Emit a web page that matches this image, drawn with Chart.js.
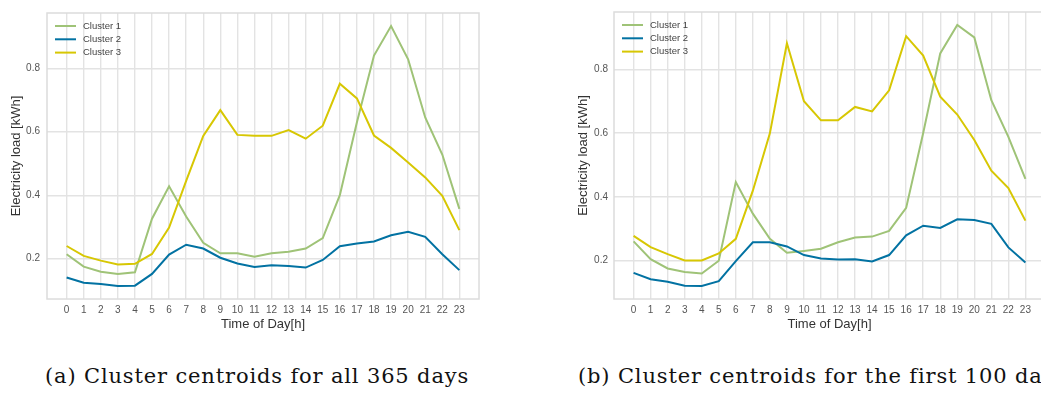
<!DOCTYPE html>
<html lang="en">
<head>
    <meta charset="UTF-8">
    <title>Cluster centroids</title>
    <script src="https://cdn.jsdelivr.net/npm/chart.js"></script>
    <style>
        html, body { margin: 0; padding: 0; background: #ffffff; overflow: hidden; }
        body { width: 1041px; height: 393px; position: relative; }
        .panel { position: absolute; top: 0; width: 500px; height: 345px; }
        #panelA { left: 0; }
        #panelB { left: 560px; }
        .caption {
            position: absolute; top: 364px; white-space: nowrap;
            font-family: 'DejaVu Serif', 'Liberation Serif', serif;
            font-size: 21px; letter-spacing: 0.85px; color: #111;
        }
        #capA { left: 45px; }
        #capB { left: 578px; }
    </style>
</head>
<body>
    <div class="panel" id="panelA"><canvas id="chartA" width="500" height="345"></canvas></div>
    <div class="panel" id="panelB"><canvas id="chartB" width="500" height="345"></canvas></div>
    <div class="caption" id="capA">(a) Cluster centroids for all 365 days</div>
    <div class="caption" id="capB">(b) Cluster centroids for the first 100 days</div>

    <script>
        const hours = [0, 1, 2, 3, 4, 5, 6, 7, 8, 9, 10, 11, 12, 13, 14, 15, 16, 17, 18, 19, 20, 21, 22, 23];
        const yTicks = [0.2, 0.4, 0.6, 0.8];
        const clusterNames = ['Cluster 1', 'Cluster 2', 'Cluster 3'];

        // all 365 days
        const allCluster1 = [0.214, 0.175, 0.159, 0.152, 0.157, 0.326, 0.428, 0.333, 0.250, 0.217, 0.217, 0.206,
                             0.217, 0.222, 0.232, 0.265, 0.400, 0.630, 0.840, 0.933, 0.828, 0.645, 0.528, 0.357];
        const allCluster2 = [0.141, 0.124, 0.120, 0.114, 0.115, 0.152, 0.213, 0.244, 0.232, 0.203, 0.185, 0.174,
                             0.179, 0.177, 0.172, 0.196, 0.239, 0.248, 0.254, 0.274, 0.285, 0.269, 0.214, 0.164];
        const allCluster3 = [0.240, 0.209, 0.194, 0.182, 0.184, 0.215, 0.298, 0.445, 0.587, 0.668, 0.590, 0.587,
                             0.587, 0.605, 0.578, 0.619, 0.751, 0.705, 0.588, 0.549, 0.503, 0.456, 0.398, 0.290];

        // first 100 days
        const firstCluster1 = [0.260, 0.204, 0.175, 0.164, 0.159, 0.199, 0.446, 0.347, 0.268, 0.224, 0.230, 0.237,
                               0.257, 0.272, 0.275, 0.293, 0.365, 0.600, 0.850, 0.939, 0.900, 0.703, 0.588, 0.456];
        const firstCluster2 = [0.161, 0.141, 0.133, 0.121, 0.120, 0.135, 0.198, 0.257, 0.257, 0.244, 0.217, 0.206,
                               0.203, 0.204, 0.197, 0.217, 0.279, 0.309, 0.302, 0.329, 0.327, 0.315, 0.241, 0.194];
        const firstCluster3 = [0.277, 0.242, 0.220, 0.200, 0.200, 0.222, 0.268, 0.419, 0.599, 0.882, 0.700, 0.640,
                               0.640, 0.682, 0.668, 0.734, 0.904, 0.843, 0.714, 0.658, 0.578, 0.482, 0.427, 0.325];

        const lineColors = ['#9fc377', '#0272a2', '#d7c703'];
        const sansFont = "'Liberation Sans', Arial, sans-serif";
        const gridColor = '#e3e3e3';

        // frame around the plot area plus the legend in its upper left corner
        const frameAndLegend = {
            id: 'frameAndLegend',
            afterDatasetsDraw(chart) {
                const { ctx, chartArea: a } = chart;
                ctx.save();
                ctx.strokeStyle = '#dcdcdc';
                ctx.lineWidth = 1.5;
                ctx.strokeRect(a.left, a.top, a.right - a.left, a.bottom - a.top);
                ctx.font = '9.5px ' + sansFont;
                ctx.textBaseline = 'middle';
                chart.data.datasets.forEach((ds, i) => {
                    const y = a.top + 13 + i * 13.3;
                    ctx.strokeStyle = ds.borderColor;
                    ctx.lineWidth = 2;
                    ctx.beginPath();
                    ctx.moveTo(a.left + 8, y);
                    ctx.lineTo(a.left + 29, y);
                    ctx.stroke();
                    ctx.fillStyle = '#444';
                    ctx.fillText(ds.label, a.left + 36, y);
                });
                ctx.restore();
            }
        };

        function buildChart(canvasId, series, lay) {
            const flat = series.flat();
            const lo = Math.min(...flat), hi = Math.max(...flat);
            const pad = (hi - lo) * 0.05;
            const xPad = (hours[hours.length - 1] - hours[0]) * 0.05;

            const datasets = series.map((vals, i) => ({
                label: clusterNames[i],
                data: hours.map((h, k) => ({ x: h, y: vals[k] })),
                borderColor: lineColors[i],
                borderWidth: 2,
                pointRadius: 0,
                tension: 0,
                fill: false,
                order: 3 - i
            }));

            return new Chart(document.getElementById(canvasId), {
                type: 'line',
                data: { datasets },
                plugins: [frameAndLegend],
                options: {
                    responsive: false, animation: false,
                    layout: { padding: { left: 0, top: 10, right: lay.right, bottom: 0 } },
                    plugins: { legend: { display: false }, tooltip: { enabled: false } },
                    scales: {
                        x: {
                            type: 'linear',
                            min: hours[0] - xPad, max: hours[hours.length - 1] + xPad,
                            afterBuildTicks: s => { s.ticks = hours.map(v => ({ value: v })); },
                            afterFit: s => { s.height = 46; },
                            grid: { color: gridColor, lineWidth: 1.4, drawTicks: false },
                            border: { display: false },
                            ticks: { padding: 5, color: '#555', font: { family: sansFont, size: 10 },
                                     maxRotation: 0, autoSkip: false },
                            title: { display: true, text: 'Time of Day[h]', color: '#333',
                                     font: { family: sansFont, size: 13 }, padding: { top: 0, bottom: 13 } }
                        },
                        y: {
                            min: lo - pad, max: hi + pad,
                            afterBuildTicks: s => { s.ticks = yTicks.map(v => ({ value: v })); },
                            afterFit: s => { s.width = lay.yWidth; },
                            grid: { color: gridColor, lineWidth: 1.4, drawTicks: false },
                            border: { display: false },
                            ticks: { padding: lay.tickPad, color: '#555', font: { family: sansFont, size: 10 },
                                     callback: v => v.toFixed(1) },
                            title: { display: true, text: 'Electricity load [kWh]', color: '#333',
                                     font: { family: sansFont, size: 13 }, padding: { top: lay.titlePad, bottom: 0 } }
                        }
                    }
                }
            });
        }

        buildChart('chartA', [allCluster1, allCluster2, allCluster3],
                   { right: 21, yWidth: 47, tickPad: 7, titlePad: 9 });
        buildChart('chartB', [firstCluster1, firstCluster2, firstCluster3],
                   { right: 15, yWidth: 54, tickPad: 6, titlePad: 15.5 });
    </script>
</body>
</html>
